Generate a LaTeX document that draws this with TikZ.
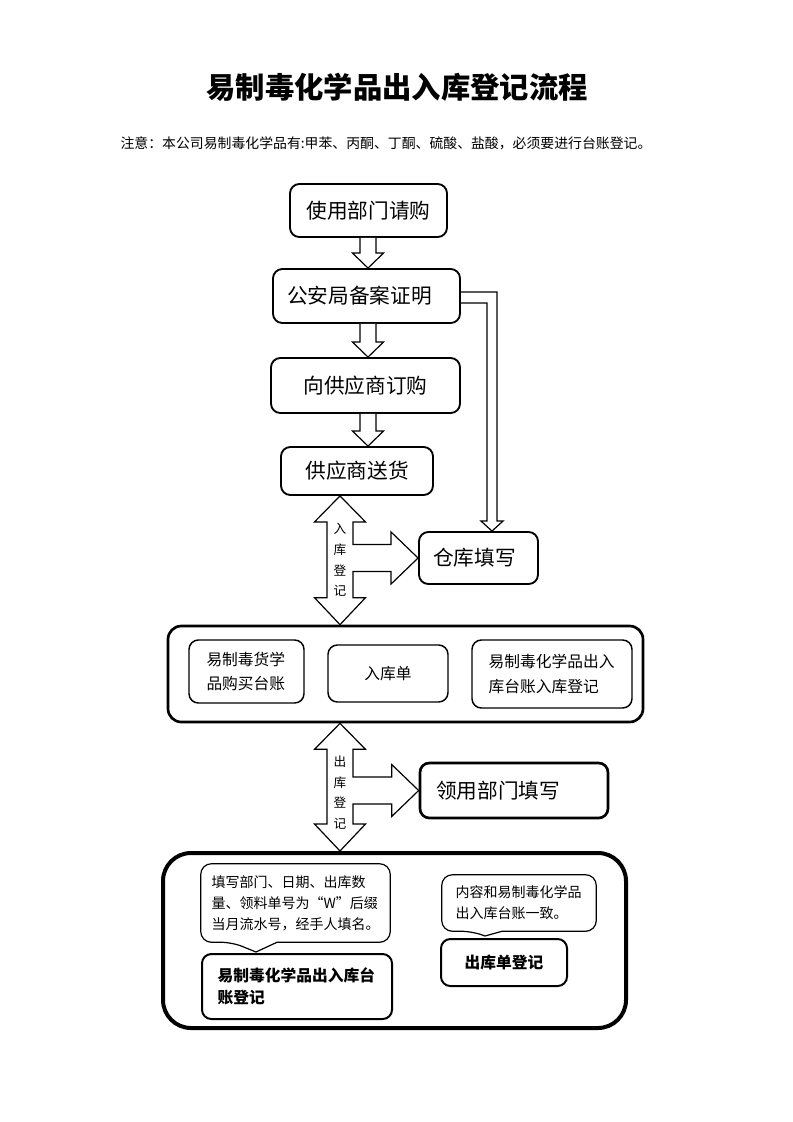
\documentclass[tikz,border=0pt]{standalone}
\usepackage{fontspec}
\setmainfont{Noto Sans CJK SC}
\usetikzlibrary{calc}
\tikzset{
	flow chart/.cd,
	box/.style = {
		draw,
		line width = 1.4pt,
		rounded corners = 7pt,
		inner sep = 0pt,
		align = center,
		font = \fontsize{15.5}{18}\selectfont
	},
	inner box/.style = {
		draw,
		line width = 1.1pt,
		rounded corners = 7pt,
		inner sep = 0pt,
		align = left,
		font = \fontsize{11.8}{18.5}\selectfont
	},
	frame/.style = {
		draw,
		rounded corners = 10pt,
		inner sep = 0pt
	},
	block/.style = {
		draw,
		line width = 0.9pt,
		fill = white
	},
	bubble/.style = {
		draw,
		line width = 0.9pt
	},
	dims/.style 2 args = {
		minimum width = #1*0.75pt,
		minimum height = #2*0.75pt
	},
}

\begin{document}
\begin{tikzpicture}[
		x = 0.75pt, y = -0.75pt,
		regtext/.style = {
			font = \fontsize{9.5}{15.5}\selectfont,
			align = center,
			inner sep = 0pt
		},
		hint/.style = {
			inner sep = 0pt,
			align = left,
			font = \fontsize{10.5}{15.75}\selectfont
		}]
	\useasboundingbox (0, 0) rectangle (793, 1122);
	\node[font = \fontsize{22}{26}\selectfont\bfseries] (title) at (397, 87) {易制毒化学品出入库登记流程};
	\node[font = \fontsize{10.4}{12}\selectfont] (note) at (386, 143) {注意：本公司易制毒化学品有:甲苯、丙酮、丁酮、硫酸、盐酸，必须要进行台账登记。};
	\coordinate (shaft) at (368, 0);
	\coordinate (stem) at (340, 0);
	\coordinate (drop) at (492, 0);
	\begin{scope}
		\node[flow chart/box, flow chart/dims = {157}{53}] (qinggou) at (368.5, 210.5) {使用部门请购};
		\node[flow chart/box, flow chart/dims = {187}{54}, align = left, text width = 119pt] (gongan) at (366.5, 296) {公安局备案证明};
		\node[flow chart/box, flow chart/dims = {189}{55}] (dinggou) at (365.5, 385.5) {向供应商订购};
		\node[flow chart/box, flow chart/dims = {152}{48}] (songhuo) at (357, 471) {供应商送货};
		\node[flow chart/box, flow chart/dims = {119}{52}, align = left, text width = 68pt] (cangku) at (478.5, 558) {仓库填写};
		\foreach \src/\dst in {qinggou/gongan, gongan/dinggou, dinggou/songhuo}{
			\draw[flow chart/block] ($(shaft |- \src.south)+(-8, 0)$) -- ($(shaft |- \dst.north)+(-8, -15)$) -- ++(-7.5, 0) -- (shaft |- \dst.north) -- ++(15.5, -15) -- ++(-7.5, 0) -- ($(shaft |- \src.south)+(8, 0)$);
		}
		\draw[flow chart/block, fill = none] ($(gongan.east)+(0, -4)$) -| ($(drop |- cangku.north)+(5, -10)$) -- ++(6, 0) -- (drop |- cangku.north) -- ++(-11, -10) -- ++(6, 0) |- ($(gongan.east)+(0, 7)$);
	\end{scope}
	\begin{scope}
		\node[flow chart/frame, line width = 2pt, flow chart/dims = {475}{96}] (midbox) at (405.5, 674) {};
		\node[flow chart/inner box, flow chart/dims = {115}{63}, text width = 60pt] (gouzhang) at (246.5, 671.5) {易制毒货学\\品购买台账};
		\node[flow chart/inner box, flow chart/dims = {120}{57}, align = center] (rukudan) at (388, 673.5) {入库单};
		\node[flow chart/inner box, flow chart/dims = {160}{68}, text width = 95pt] (rukudengji) at (552, 674) {易制毒化学品出入\\库台账入库登记};
		\node[flow chart/box, line width = 2pt, flow chart/dims = {188}{55}, align = left, text width = 117pt] (lingyong) at (514, 790.5) {领用部门填写};
		\node[flow chart/frame, line width = 3pt, rounded corners = 21pt, flow chart/dims = {463}{175}] (botbox) at (394.5, 940.5) {};
	\end{scope}
	\foreach \src/\dst/\side/\lbl in {songhuo/midbox/cangku/{入\\库\\登\\记}, midbox/botbox/lingyong/{出\\库\\登\\记}}{
		\coordinate (tipa) at (stem |- \src.south);
		\coordinate (tipb) at (stem |- \dst.north);
		\coordinate (joint) at (stem |- \side.west);
		\draw[flow chart/block] (tipa) -- ++(25.5, 26) -- ++(-12.5, 0) -- ($(joint)+(13, -13.5)$) -- ($(\side.west)+(-27, -13.5)$) -- ++(0, -12.5) -- (\side.west) -- ++(-27, 26) -- ++(0, -12.5) -- ($(joint)+(13, 13.5)$) -- ($(tipb)+(13, -27)$) -- ++(12.5, 0) -- (tipb) -- ++(-25.5, -27) -- ++(12.5, 0) -- ($(tipa)+(-13, 26)$) -- ++(-12.5, 0) -- cycle;
		\node[regtext] (lbl-\src) at ($(joint)+(0, 2)$) {\lbl};
	}
	\begin{scope}
		\node[flow chart/inner box, line width = 1.5pt, flow chart/dims = {190}{65}, text width = 119pt, font = \fontsize{11.8}{16.5}\selectfont\bfseries] (tz) at (297, 986.5) {易制毒化学品出入库台\\账登记};
		\node[flow chart/inner box, line width = 1.5pt, flow chart/dims = {126}{47}, align = center, font = \fontsize{11.8}{16.5}\selectfont\bfseries] (chudan) at (504, 962.5) {出库单登记};
		\node[hint, text width = 126pt, flow chart/dims = {189}{78}] (tzhint) at (295.5, 903) {填写部门、日期、出库数\\量、领料单号为“W”后缀\\当月流水号，经手人填名。};
		\node[hint, text width = 95pt, flow chart/dims = {154}{56}] (cdhint) at (519, 903) {内容和易制毒化学品\\出入库台账一致。};
		\coordinate (tzpin) at ($(tz.north west)+(55, -1)$);
		\coordinate (cdpin) at ($(chudan.north west)+(45, -2)$);
		\draw[flow chart/bubble] ($(tzpin |- tzhint.south)+(21, 0)$) [rounded corners = 8pt] -- (tzhint.south east) -- (tzhint.north east) -- (tzhint.north west) -- (tzhint.south west) -- ($(tzpin |- tzhint.south)+(-24, 0)$) [sharp corners] -- (tzpin) -- cycle;
		\draw[flow chart/bubble] ($(cdpin |- cdhint.south)+(17, 0)$) [rounded corners = 8pt] -- (cdhint.south east) -- (cdhint.north east) -- (cdhint.north west) -- (cdhint.south west) -- ($(cdpin |- cdhint.south)+(-13, 0)$) [sharp corners] -- (cdpin) -- cycle;
	\end{scope}
\end{tikzpicture}
\end{document}
